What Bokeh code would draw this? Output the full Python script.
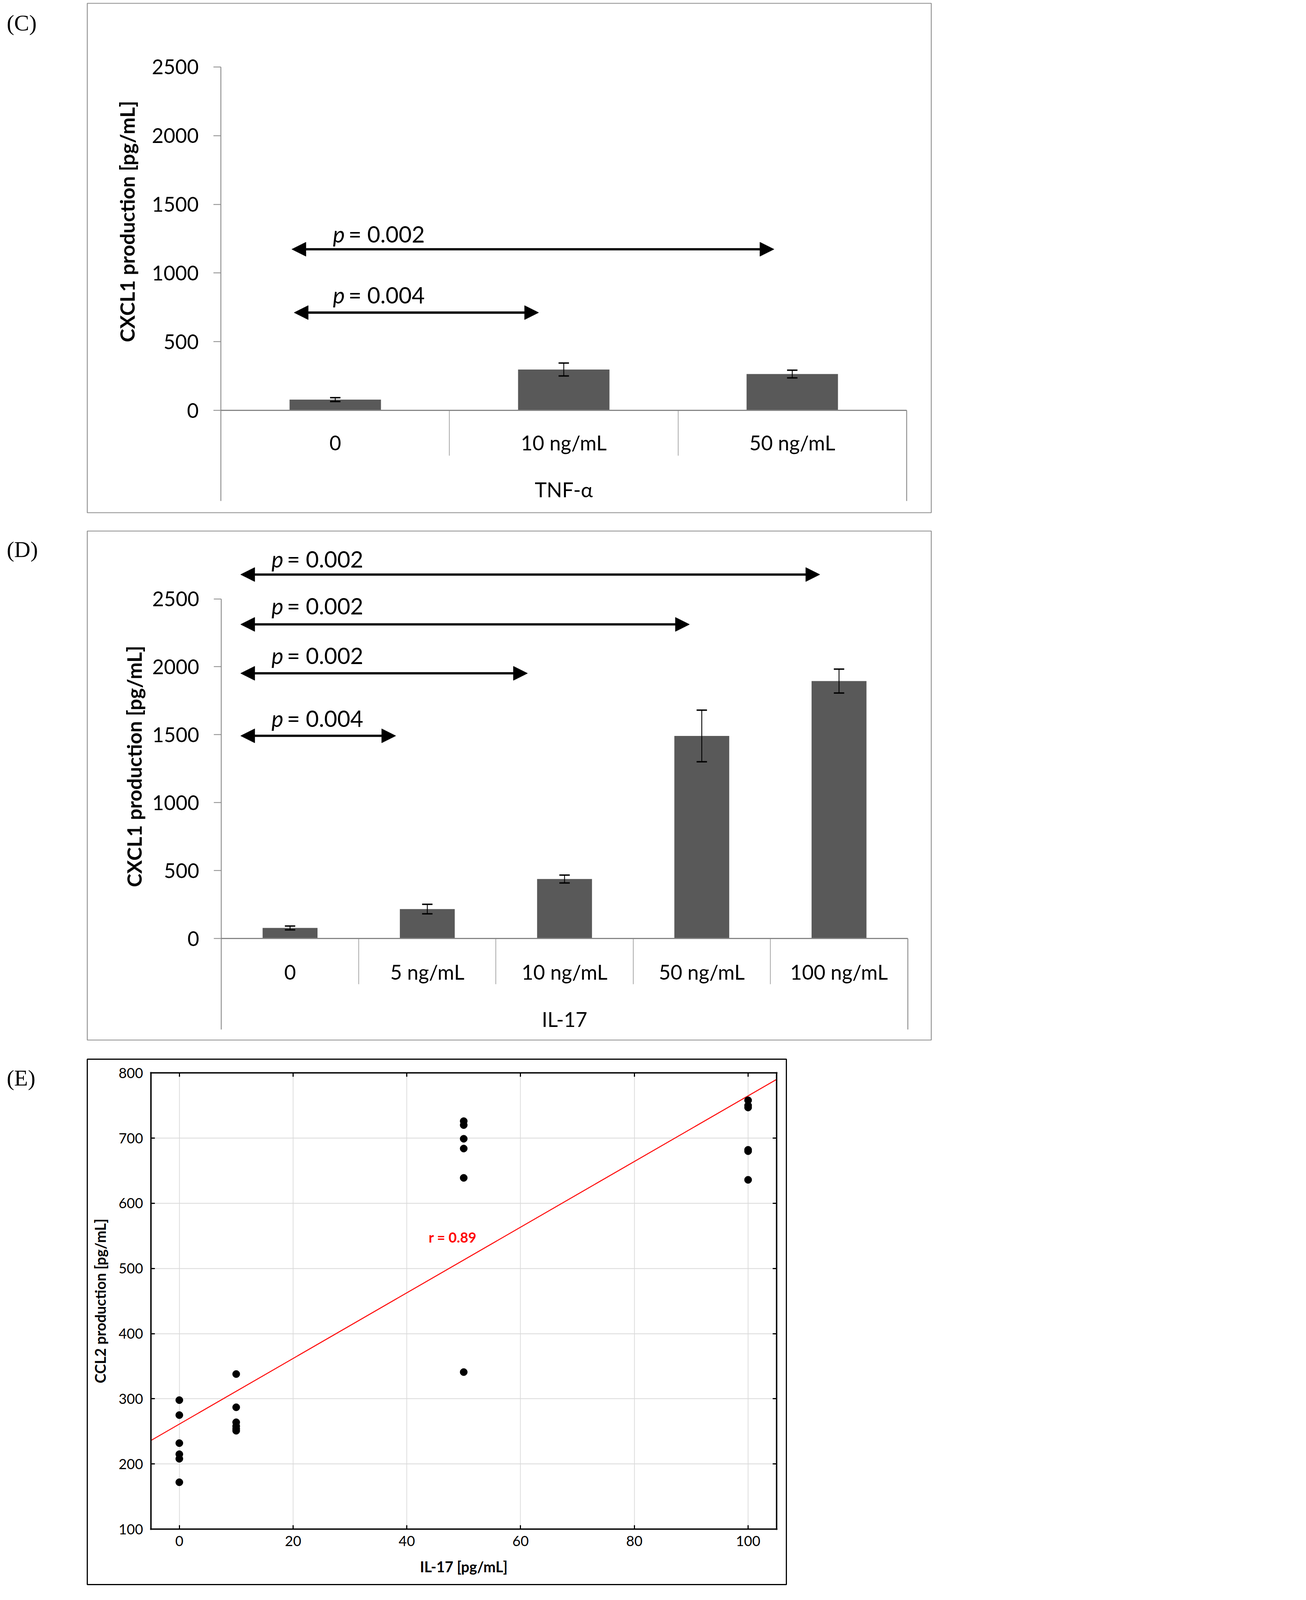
from bokeh.plotting import figure
from bokeh.models import (ColumnDataSource, Whisker, TeeHead, Arrow, NormalHead, LinearAxis,
                          FixedTicker, Range1d, Grid, CustomJSTickFormatter, GridBox, Div)
from bokeh.core.properties import value
from bokeh.embed import file_html
from bokeh.resources import INLINE

# ---- panel C : TNF-alpha ----
tnf_labels = ["0", "10 ng/mL", "50 ng/mL"]
tnf_mean = [79, 298, 265]
tnf_err = [14, 47, 28]
tnf_arrow_start = [-0.19, -0.18]
tnf_arrow_end = [1.92, 0.89]
tnf_arrow_y = [1173, 712]
tnf_p = ["0.002", "0.004"]
tnf_p_x = [-0.01, -0.01]
tnf_p_y = [1186, 745]

# ---- panel D : IL-17 ----
il_labels = ["0", "5 ng/mL", "10 ng/mL", "50 ng/mL", "100 ng/mL"]
il_mean = [78, 217, 438, 1491, 1895]
il_err = [14, 35, 29, 190, 88]
il_arrow_start = [-0.36, -0.36, -0.36, -0.36]
il_arrow_end = [3.86, 2.91, 1.73, 0.77]
il_arrow_y = [2679, 2312, 1952, 1492]
il_p = ["0.002", "0.002", "0.002", "0.004"]
il_p_x = [-0.135, -0.135, -0.135, -0.135]
il_p_y = [2695, 2350, 1986, 1524]

bar_ticks = [0, 500, 1000, 1500, 2000, 2500]

# ---- panel E : correlation ----
dose = [0, 0, 0, 0, 0, 0,
        10, 10, 10, 10, 10, 10,
        50, 50, 50, 50, 50, 50,
        100, 100, 100, 100, 100, 100]
ccl2 = [298, 275, 232, 215, 208, 172,
        338, 287, 264, 258, 254, 251,
        726, 720, 699, 684, 639, 341,
        758, 750, 747, 682, 680, 636]
fit_x = [-5, 105]
fit_y = [236, 790]
r_text = "r = 0.89"
e_xticks = [0, 20, 40, 60, 80, 100]
e_yticks = [100, 200, 300, 400, 500, 600, 700, 800]

tags = ["(C)", "(D)", "(E)"]
tag_pad = [34, 51, 55]

BOX_GREY = "#8c8c8c"
AXIS_GREY = "#868686"
BAR_GREY = "#595959"
FONT = "Lato"

K = 0.72  # overall size factor so the whole figure stays inside the photographed area


def s(v):
    return round(v * K, 1)


def si(v):
    return int(round(v * K))


def px(v):
    return "%spx" % s(v)


def blank():
    return CustomJSTickFormatter(code="return ''")


def bar_panel(labels, means, errs, group, a_start, a_end, a_y, p_vals, p_x, p_y,
              xr, yr, frame_h, top, low, sep_out, cat_off, grp_off, lab_bounds, lab_off):
    n = len(labels)
    pos = list(range(n))
    p = figure(x_range=Range1d(*xr), y_range=Range1d(*yr),
               frame_width=si(3001), frame_height=si(frame_h),
               min_border_left=0, min_border_right=si(20),
               min_border_top=si(top), min_border_bottom=si(20),
               x_axis_location=None, y_axis_location=None,
               toolbar_location=None, tools="", output_backend="svg")
    p.grid.visible = False
    p.outline_line_color = BOX_GREY
    p.outline_line_width = s(3)

    p.vbar(x=pos, top=means, bottom=0, width=0.4, fill_color=BAR_GREY, line_color=None)

    src = ColumnDataSource(dict(x=pos,
                                upper=[m + e for m, e in zip(means, errs)],
                                lower=[m - e for m, e in zip(means, errs)]))
    p.add_layout(Whisker(source=src, base="x", upper="upper", lower="lower",
                         line_color="black", line_width=s(3), level="annotation",
                         upper_head=TeeHead(size=s(37), line_width=s(5), line_color="black"),
                         lower_head=TeeHead(size=s(37), line_width=s(5), line_color="black")))

    asrc = ColumnDataSource(dict(x0=a_start, x1=a_end, y=a_y))
    p.add_layout(Arrow(source=asrc, x_start="x0", y_start="y", x_end="x1", y_end="y",
                       line_width=s(8), line_color="black",
                       start=NormalHead(size=s(50), fill_color="black", line_color="black"),
                       end=NormalHead(size=s(50), fill_color="black", line_color="black")))

    p.text(x=p_x, y=p_y, text=["p"] * len(p_vals), text_font=value(FONT),
           text_font_style="italic", text_font_size=px(80), text_baseline="bottom",
           text_color="black")
    p.text(x=p_x, y=p_y, text=[" = " + v for v in p_vals], x_offset=s(55),
           text_font=value(FONT), text_font_size=px(80), text_baseline="bottom",
           text_color="black")

    # value axis, continuing down as the left border of the category block
    ya = LinearAxis(fixed_location=-0.5, bounds=(low, 2500), ticker=FixedTicker(ticks=bar_ticks),
                    axis_line_color=AXIS_GREY, axis_line_width=s(3),
                    major_tick_line_color=AXIS_GREY, major_tick_line_width=s(3),
                    major_tick_in=0, major_tick_out=si(26), minor_tick_line_color=None,
                    major_label_text_font=FONT, major_label_text_font_size=px(72),
                    major_label_text_color="black", major_label_standoff=si(53))
    p.add_layout(ya, "left")

    # the axis title, centred as in the original
    ylab = LinearAxis(fixed_location=-0.5, bounds=lab_bounds, ticker=FixedTicker(ticks=[]),
                      axis_line_color=None, major_tick_line_color=None, minor_tick_line_color=None,
                      axis_label="CXCL1 production [pg/mL]", axis_label_text_font=FONT,
                      axis_label_text_font_size=px(72), axis_label_text_font_style="bold",
                      axis_label_text_color="black", axis_label_standoff=si(lab_off))
    p.add_layout(ylab, "left")

    yr_line = LinearAxis(fixed_location=n - 0.5, bounds=(low, 0), ticker=FixedTicker(ticks=[]),
                         axis_line_color=AXIS_GREY, axis_line_width=s(3),
                         major_tick_line_color=None, minor_tick_line_color=None,
                         formatter=blank())
    p.add_layout(yr_line, "right")

    # category axis: line plus separators
    xa = LinearAxis(fixed_location=0, bounds=(-0.5, n - 0.5),
                    ticker=FixedTicker(ticks=[k + 0.5 for k in range(n - 1)]),
                    axis_line_color=AXIS_GREY, axis_line_width=s(4.5),
                    major_tick_line_color=AXIS_GREY, major_tick_line_width=s(2),
                    major_tick_in=0, major_tick_out=si(sep_out), minor_tick_line_color=None,
                    formatter=blank())
    p.add_layout(xa, "below")

    xc = LinearAxis(fixed_location=0, ticker=FixedTicker(ticks=pos),
                    major_label_overrides={i: lab for i, lab in enumerate(labels)},
                    axis_line_color=None, major_tick_line_color=None, minor_tick_line_color=None,
                    major_label_text_font=FONT, major_label_text_font_size=px(72),
                    major_label_text_color="black", major_label_standoff=si(cat_off))
    p.add_layout(xc, "below")

    mid = (n - 1) // 2
    xg = LinearAxis(fixed_location=0, ticker=FixedTicker(ticks=[mid]),
                    major_label_overrides={mid: group},
                    axis_line_color=None, major_tick_line_color=None, minor_tick_line_color=None,
                    major_label_text_font=FONT, major_label_text_font_size=px(72),
                    major_label_text_color="black", major_label_standoff=si(grp_off))
    p.add_layout(xg, "below")
    return p


pC = bar_panel(tnf_labels, tnf_mean, tnf_err, "TNF-α",
               tnf_arrow_start, tnf_arrow_end, tnf_arrow_y, tnf_p, tnf_p_x, tnf_p_y,
               (-1.0852, 2.6083), (-744, 2962.5), 1811, 11, -660, 161, 62, 229,
               (0, 2748), 292)

pD = bar_panel(il_labels, il_mean, il_err, "IL-17",
               il_arrow_start, il_arrow_end, il_arrow_y, il_p, il_p_x, il_p_y,
               (-1.4775, 4.6721), (-747, 2999), 1810, 32, -670, 162, 67, 235,
               (0, 2534), 268)

# ---- panel E ----
pE = figure(x_range=Range1d(-16.18, 106.73), y_range=Range1d(15.0, 821.1),
            frame_width=si(2486), frame_height=si(1868),
            min_border_left=si(2), min_border_right=si(20),
            min_border_top=si(35), min_border_bottom=si(10),
            x_axis_location=None, y_axis_location=None,
            toolbar_location=None, tools="", output_backend="svg")
pE.grid.visible = False
pE.outline_line_color = "black"
pE.outline_line_width = s(4)

pE.add_layout(Grid(dimension=0, ticker=FixedTicker(ticks=e_xticks), cross_bounds=(100, 800),
                   grid_line_color="#d9d9d9", grid_line_width=s(2.5)))
pE.add_layout(Grid(dimension=1, ticker=FixedTicker(ticks=e_yticks), cross_bounds=(-5, 105),
                   grid_line_color="#d9d9d9", grid_line_width=s(2.5)))

pE.line(fit_x, fit_y, line_color="#ff0000", line_width=s(3.5))
pE.scatter(dose, ccl2, size=s(26), fill_color="black", line_color="black")

frame_style = dict(axis_line_color="black", axis_line_width=s(5),
                   major_tick_line_color="black", major_tick_line_width=s(4),
                   major_tick_in=si(14), major_tick_out=0, minor_tick_line_color=None,
                   major_label_text_font=FONT, major_label_text_font_size=px(50),
                   major_label_text_color="black",
                   axis_label_text_font=FONT, axis_label_text_font_size=px(52),
                   axis_label_text_font_style="bold", axis_label_text_color="black")

pE.add_layout(LinearAxis(fixed_location=-5, bounds=(98.9, 801.1),
                         ticker=FixedTicker(ticks=e_yticks), major_label_standoff=si(28),
                         axis_label="CCL2 production [pg/mL]", axis_label_standoff=si(31),
                         **frame_style), "left")
pE.add_layout(LinearAxis(fixed_location=105, bounds=(98.9, 801.1),
                         ticker=FixedTicker(ticks=e_yticks), formatter=blank(),
                         **frame_style), "right")
pE.add_layout(LinearAxis(fixed_location=100, bounds=(-5.12, 105.12),
                         ticker=FixedTicker(ticks=e_xticks), major_label_standoff=si(24),
                         axis_label="IL-17 [pg/mL]", axis_label_standoff=si(37),
                         **frame_style), "below")
pE.add_layout(LinearAxis(fixed_location=800, bounds=(-5.12, 105.12),
                         ticker=FixedTicker(ticks=e_xticks), formatter=blank(),
                         **frame_style), "above")

# correlation note, written as the title of a line-less axis ending at its right edge
pE.add_layout(LinearAxis(fixed_location=52.3, bounds=(540, 556), ticker=FixedTicker(ticks=[]),
                         axis_line_color=None, major_tick_line_color=None,
                         minor_tick_line_color=None, axis_label=r_text,
                         axis_label_orientation="horizontal", axis_label_standoff=0,
                         axis_label_text_font=FONT, axis_label_text_font_style="bold",
                         axis_label_text_font_size=px(50), axis_label_text_color="#ff0000"),
              "left")

# panel letters in a strip on the left
heights = [si(11) + si(1811) + si(20), si(32) + si(1810) + si(20), si(35) + si(1868) + si(10)]
divs = [Div(text='<div style="font-family:Times,\'Liberation Serif\',serif;font-size:%s;'
                 'line-height:%s;color:black;padding-left:%s;padding-top:%s">%s</div>'
                 % (px(80), px(80), px(17), px(pad), t), width=si(295), height=h)
        for t, pad, h in zip(tags, tag_pad, heights)]

page = GridBox(children=[(pC, 0, 1), (pD, 1, 1), (pE, 2, 1),
                         (divs[0], 0, 0), (divs[1], 1, 0), (divs[2], 2, 0)], spacing=0)
open("out.html", "w").write(file_html(page, INLINE))
